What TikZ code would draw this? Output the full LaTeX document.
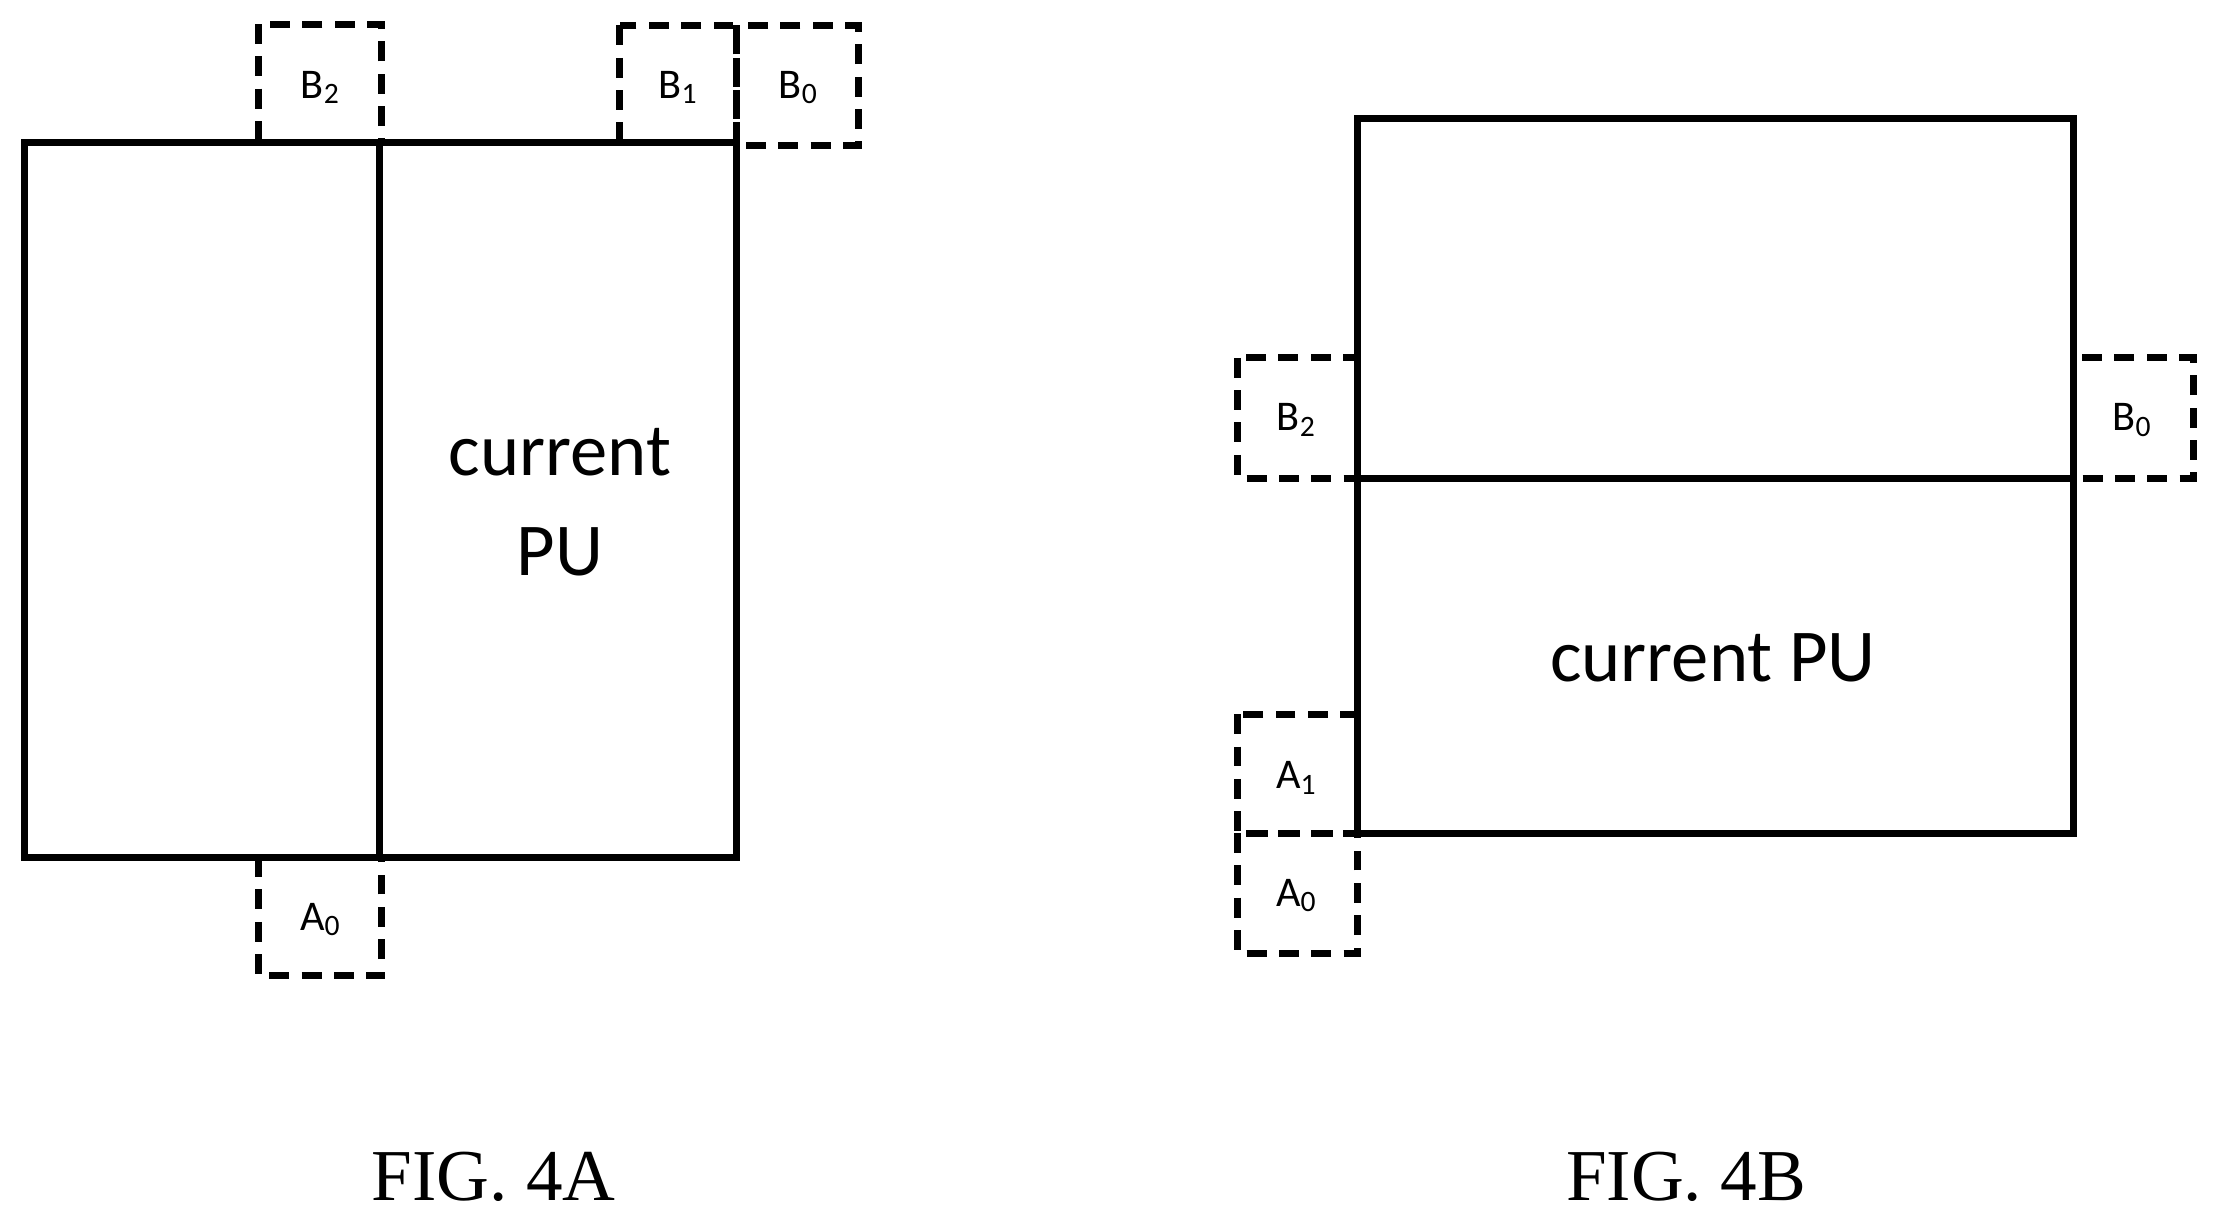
\documentclass[tikz,border=0pt]{standalone}
\usepackage{fontspec}
\setmainfont{Carlito}
\newfontfamily\capfont{Liberation Serif}
\begin{document}
\begin{tikzpicture}[x=0.01cm,y=-0.01cm,
  solid box/.style={draw=black,line width=1.4pt},
  nb/.style={draw=black,line width=1.4pt,dash pattern=on 4pt off 2.5pt},
  lab/.style={font=\fontsize{8.5}{10}\selectfont},
  big/.style={font=\fontsize{15}{20}\selectfont,align=center},
  figcap/.style={font=\capfont\fontsize{14.7}{17}\selectfont}]
\useasboundingbox (0,0) rectangle (1566,862);
% FIG 4A
\draw[solid box] (17,101) rectangle (521,606);
\draw[solid box] (268,101) -- (268,606);
\draw[nb] (183,17) rectangle (270,101);
\draw[nb] (438,18) rectangle (521,101);
\draw[nb] (521,18) rectangle (607,103);
\draw[nb] (183,606) rectangle (270,690);
\node[lab] (a2) at (227,62) {B\textsubscript{2}};
\node[lab] (a1) at (480,62) {B\textsubscript{1}};
\node[lab] (a0) at (565,62) {B\textsubscript{0}};
\node[lab] (aa0) at (227,650) {A\textsubscript{0}};
\node[big] (acur) at (396,355) {current\\PU};
\node[figcap] (fa) at (349,832) {FIG. 4A};
% FIG 4B
\draw[solid box] (960,84) rectangle (1466,589);
\draw[solid box] (960,338) -- (1466,338);
\draw[nb] (875,253) rectangle (960,338);
\draw[nb] (1466,253) rectangle (1551,338);
\draw[nb] (875,505) rectangle (960,589);
\draw[nb] (875,589) rectangle (960,674);
\node[lab] (b2) at (917,297) {B\textsubscript{2}};
\node[lab] (b0) at (1508,297) {B\textsubscript{0}};
\node[lab] (ba1) at (917,550) {A\textsubscript{1}};
\node[lab] (ba0) at (917,633) {A\textsubscript{0}};
\node[big] (bcur) at (1211,465) {current PU};
\node[figcap] (fb) at (1192,832) {FIG. 4B};
\end{tikzpicture}
\end{document}
